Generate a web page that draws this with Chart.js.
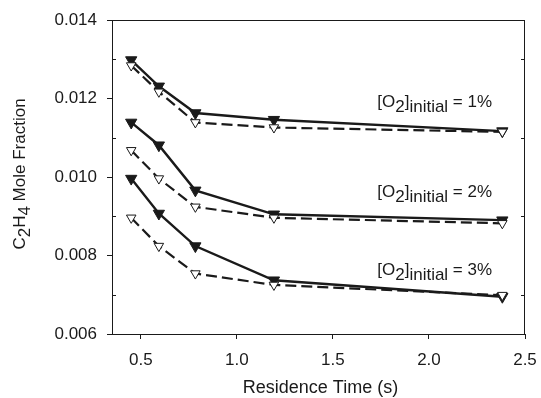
<!DOCTYPE html>
<html>
<head>
<meta charset="utf-8">
<script src="https://cdn.jsdelivr.net/npm/chart.js@4.4.1/dist/chart.umd.min.js"></script>
<style>
  html, body { margin: 0; padding: 0; background: #fff; }
  #wrap { width: 541px; height: 398px; position: relative; }
</style>
</head>
<body>
<div id="wrap"><canvas id="c2h4Chart"></canvas></div>
<script>
// residence times (s)
const residenceTimes = [0.45, 0.594, 0.784, 1.193, 2.382];

// C2H4 mole fraction, measured (solid) and modelled (dashed)
const o2OneMeasured   = [0.01298, 0.01231, 0.01163, 0.01146, 0.01117];
const o2OneModel      = [0.01284, 0.01217, 0.01139, 0.01126, 0.01115];
const o2TwoMeasured   = [0.01139, 0.01081, 0.00966, 0.00905, 0.00890];
const o2TwoModel      = [0.01068, 0.00996, 0.00924, 0.00896, 0.00882];
const o2ThreeMeasured = [0.00996, 0.00907, 0.00824, 0.00737, 0.00695];
const o2ThreeModel    = [0.00896, 0.00824, 0.00754, 0.00725, 0.00699];

const xTicks = [0.5, 1.0, 1.5, 2.0, 2.5];
const yTicks = [0.006, 0.008, 0.010, 0.012, 0.014];
const yMinorTicks = [0.007, 0.009, 0.011, 0.013];
const curveLabels = ['1%', '2%', '3%'];

const FONT = '"Liberation Sans", Arial, sans-serif';
const INK = '#1a1a1a';

function pts(ys) {
    return residenceTimes.map((x, i) => ({ x: x, y: ys[i] }));
}

function solidSet(ys) {
    return {
        data: pts(ys),
        borderColor: INK,
        borderWidth: 2.4,
        pointStyle: 'triangle',
        rotation: 180,
        pointRadius: 6.5,
        pointBackgroundColor: INK,
        pointBorderColor: INK,
        pointBorderWidth: 1,
        tension: 0
    };
}

function dashedSet(ys) {
    return {
        data: pts(ys),
        borderColor: INK,
        borderWidth: 2.2,
        borderDash: [11, 5],
        pointStyle: 'triangle',
        rotation: 180,
        pointRadius: 5.5,
        pointBackgroundColor: '#fff',
        pointBorderColor: INK,
        pointBorderWidth: 1,
        tension: 0
    };
}

// text with subscript pieces, left aligned at x, vertically centred at y
function drawRich(ctx, parts, x, y, size, subShift) {
    let cx = x;
    ctx.font = size + 'px ' + FONT;
    parts.forEach(p => {
        ctx.fillText(p.t, cx, y + (p.sub ? subShift : 0));
        cx += ctx.measureText(p.t).width;
    });
    return cx - x;
}

function richWidth(ctx, parts, size) {
    ctx.font = size + 'px ' + FONT;
    return parts.reduce((w, p) => w + ctx.measureText(p.t).width, 0);
}

// frame, inner minor ticks, axis titles and curve labels
const decorations = {
    id: 'decorations',
    afterDraw(chart) {
        const ctx = chart.ctx;
        const a = chart.chartArea;
        const xs = chart.scales.x;
        const ys = chart.scales.y;
        ctx.save();
        ctx.strokeStyle = INK;
        ctx.lineWidth = 1;
        ctx.strokeRect(a.left + 0.5, a.top + 0.5, a.right - a.left - 1, a.bottom - a.top);

        ctx.beginPath();
        yMinorTicks.forEach(v => {
            const py = Math.round(ys.getPixelForValue(v)) + 0.5;
            ctx.moveTo(a.left, py); ctx.lineTo(a.left + 4, py);
            ctx.moveTo(a.right, py); ctx.lineTo(a.right - 4, py);
        });
        ctx.stroke();

        ctx.fillStyle = INK;
        ctx.textBaseline = 'middle';
        ctx.textAlign = 'left';

        // x title
        ctx.font = '18px ' + FONT;
        const xt = 'Residence Time (s)';
        ctx.fillText(xt, (a.left + a.right) / 2 - ctx.measureText(xt).width / 2 + 2, 388);

        // y title, rotated
        const yParts = [{ t: 'C' }, { t: '2', sub: true }, { t: 'H' }, { t: '4', sub: true }, { t: ' Mole Fraction' }];
        const yw = richWidth(ctx, yParts, 17);
        ctx.save();
        ctx.translate(20, 174);
        ctx.rotate(-Math.PI / 2);
        drawRich(ctx, yParts, -yw / 2, 0, 17, 5);
        ctx.restore();

        // curve labels
        const labelX = xs.getPixelForValue(1.731);
        const labelY = [0.0119, 0.009613, 0.007628];
        curveLabels.forEach((txt, i) => {
            const parts = [{ t: '[O' }, { t: '2', sub: true }, { t: ']' }, { t: 'initial', sub: true }, { t: ' = ' + txt }];
            drawRich(ctx, parts, labelX, ys.getPixelForValue(labelY[i]), 17, 5);
        });
        ctx.restore();
    }
};

new Chart(document.getElementById('c2h4Chart'), {
    type: 'line',
    data: {
        datasets: [
            dashedSet(o2OneModel), solidSet(o2OneMeasured),
            dashedSet(o2TwoModel), solidSet(o2TwoMeasured),
            dashedSet(o2ThreeModel), solidSet(o2ThreeMeasured)
        ]
    },
    options: {
        responsive: true,
        maintainAspectRatio: false,
        animation: false,
        layout: { padding: { top: 20, right: 16, left: 0, bottom: 0 } },
        plugins: { legend: { display: false }, tooltip: { enabled: false } },
        scales: {
            x: {
                type: 'linear',
                min: 0.35,
                max: 2.5,
                afterBuildTicks: s => { s.ticks = xTicks.map(v => ({ value: v })); },
                afterFit: s => {
                    s.height = 64;
                    s.paddingLeft = 0;
                    s.paddingRight = 0;
                },
                border: { display: true, color: INK, width: 1 },
                grid: { drawOnChartArea: false, drawTicks: true, tickLength: 5, color: INK },
                ticks: {
                    color: INK,
                    padding: 11,
                    maxRotation: 0,
                    font: { size: 17, family: FONT },
                    callback: v => v.toFixed(1)
                }
            },
            y: {
                min: 0.006,
                max: 0.014,
                afterBuildTicks: s => { s.ticks = yTicks.map(v => ({ value: v })); },
                afterFit: s => {
                    s.width = 112;
                    s.paddingTop = 0;
                    s.paddingBottom = 0;
                },
                border: { display: true, color: INK, width: 1 },
                grid: { drawOnChartArea: false, drawTicks: true, tickLength: 5, color: INK },
                ticks: {
                    color: INK,
                    padding: 10,
                    font: { size: 17, family: FONT },
                    callback: v => v.toFixed(3)
                }
            }
        }
    },
    plugins: [decorations]
});
</script>
</body>
</html>
